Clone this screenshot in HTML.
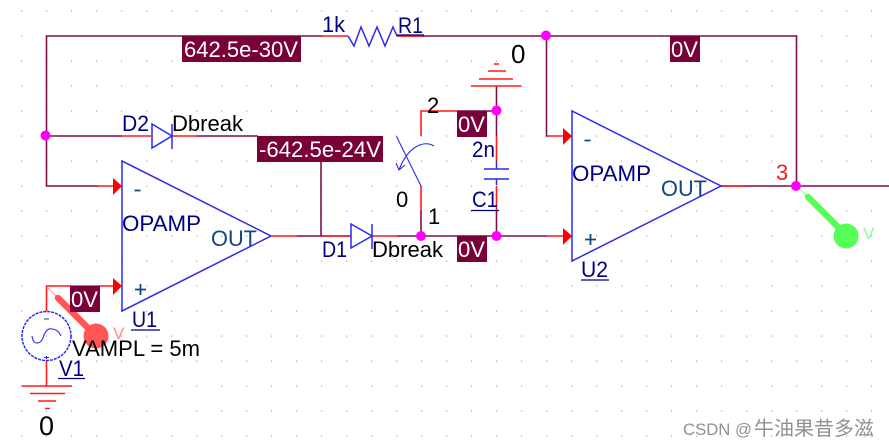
<!DOCTYPE html>
<html><head><meta charset="utf-8"><style>
html,body{margin:0;padding:0;background:#fff;width:889px;height:448px;overflow:hidden}
svg{display:block;filter:blur(.35px)}
text{font-family:"Liberation Sans","Noto Sans CJK SC",sans-serif;font-size:22px}
.w{stroke:#7f1048;stroke-width:1.6;fill:none}
.r{stroke:#ff1a1a;stroke-width:1.6;fill:none}
.b{stroke:#2a2aee;stroke-width:1.5;fill:none}
.s{stroke:#2a2aee;stroke-width:1.1;fill:none}
.box{fill:#7a0038}
.j{fill:#ff00ff}
.a{fill:#ff0000}
.n{fill:#000080}
.k{fill:#000}
.t{fill:#fff}
.o{fill:#14467f}
</style></head><body>
<svg width="889" height="448" viewBox="0 0 889 448" xmlns="http://www.w3.org/2000/svg">
<defs><pattern id="g" x="21" y="10.500" width="25" height="25" patternUnits="userSpaceOnUse"><rect width="1.200" height="1.200" fill="#a8a8a8"/></pattern></defs>
<rect width="889" height="448" fill="url(#g)"/>

<!-- maroon wires -->
<path class="w" d="M322 36H46.500V186H98M46.500 136H122M196 136H258M297 236H351M321 236V161M397 236H547M397 36H796.500V186M721 186H889M546.500 36V136H548M421 211V236M496.500 86V136M496.500 210V236M457 111H496"/>
<!-- red wires -->
<path class="r" d="M97 186H114M122 136H151M172 136H196M272 236H297M322 236H351M372 236H397M322 36H348M397 36H422M421 136V111H457M496.500 136V161M496.500 186V210M421 186V211M547 236H564M547 136H564M721 186H746M46.500 311V286H114M46.500 360V386"/>

<!-- arrowheads -->
<polygon class="a" points="113,178 122,186 113,195"/>
<polygon class="a" points="113,278 122,286 113,295"/>
<polygon class="a" points="563,128 572,136 563,145"/>
<polygon class="a" points="563,228 572,236 563,245"/>

<!-- ground symbols -->
<path class="r" d="M22 386H72M30 393.500H65M38 401H56M45 408.500H50"/>
<path class="r" d="M471 86H521M479 79H513M488 71H506M494 64H499"/>

<!-- opamps -->
<polygon class="b" points="122,161 122,311 271,236"/>
<polygon class="b" points="572,111 572,261 721,186"/>
<path stroke="#14467f" stroke-width="1.800" fill="none" d="M134.500 190.500H140.500M135 289.500H146M140.500 284V295M584.500 140.500H590.500M585 239.500H596M590.500 234V245"/>

<!-- diodes -->
<polygon class="b" points="152,124 172,136 152,148"/>
<path class="b" d="M172 124V149"/>
<polygon class="b" points="351,224 372,236 351,248"/>
<path class="b" d="M372 224V249"/>

<!-- resistor -->
<path class="b" d="M348 36L354 46L361 27L369 46L377 27L385 46L393 27L397 36"/>

<!-- capacitor -->
<path class="b" d="M484 169H509M484 179H509M496.500 161V169M496.500 179V185"/>

<!-- switch -->
<path class="s" d="M396.500 136.500L421 186M434 146C424 140 408 146 399 170M396 163L399 170L405 165"/>

<!-- source -->
<circle class="b" cx="46.500" cy="336" r="24.500" stroke-dasharray="3 1"/>
<path class="s" d="M32 336C33 345 40 345 43 338C45 331 48 328 52 329C56 329 59 332 61 336M44 319H49M46.500 356V359M44 357.500H49"/>

<!-- probes -->
<path stroke="#ff9a9a" stroke-width="1" d="M47 287L58 298"/>
<path stroke="#ff5555" stroke-width="6.500" stroke-linecap="round" d="M58 298L92 332"/>
<circle cx="96" cy="336" r="12.500" fill="#ff5555"/>
<path stroke="#90ff90" stroke-width="1" d="M797 187L808 197"/>
<path stroke="#55ff55" stroke-width="6.500" stroke-linecap="round" d="M808 197L842 231"/>
<circle cx="846" cy="236" r="12.500" fill="#55ff55"/>

<!-- junctions -->
<circle class="j" cx="45.500" cy="135.500" r="5"/>
<circle class="j" cx="546" cy="35.500" r="5"/>
<circle class="j" cx="496.500" cy="110.500" r="5"/>
<circle class="j" cx="421" cy="236" r="5"/>
<circle class="j" cx="496.500" cy="236" r="5"/>
<circle class="j" cx="796" cy="186" r="5"/>

<!-- voltage boxes -->
<rect class="box" x="182" y="36" width="119" height="26"/>
<rect class="box" x="257" y="136" width="126" height="26"/>
<rect class="box" x="457" y="111" width="30" height="26"/>
<rect class="box" x="457" y="236" width="30" height="26"/>
<rect class="box" x="670" y="36" width="30" height="26"/>
<rect class="box" x="70" y="286" width="30" height="26"/>
<text class="t" x="184" y="57" textLength="114" lengthAdjust="spacingAndGlyphs">642.5e-30V</text>
<text class="t" x="259" y="157" textLength="122" lengthAdjust="spacingAndGlyphs">-642.5e-24V</text>
<text class="t" x="458" y="132" textLength="27" lengthAdjust="spacingAndGlyphs">0V</text>
<text class="t" x="458" y="257" textLength="27" lengthAdjust="spacingAndGlyphs">0V</text>
<text class="t" x="671" y="57" textLength="27" lengthAdjust="spacingAndGlyphs">0V</text>
<text class="t" x="71" y="307" textLength="27" lengthAdjust="spacingAndGlyphs">0V</text>

<!-- labels -->
<text class="n" x="122" y="131" textLength="27" lengthAdjust="spacingAndGlyphs">D2</text>
<text class="k" x="172" y="131" textLength="71" lengthAdjust="spacingAndGlyphs">Dbreak</text>
<text class="n" x="122" y="231" textLength="79" lengthAdjust="spacingAndGlyphs">OPAMP</text>
<text class="o" x="211" y="246" textLength="46" lengthAdjust="spacingAndGlyphs">OUT</text>
<text class="n" x="132" y="327" textLength="25" lengthAdjust="spacingAndGlyphs">U1</text>
<path stroke="#000080" stroke-width="1.300" d="M131 330H160"/>
<text class="k" x="72" y="356" textLength="128" lengthAdjust="spacingAndGlyphs">VAMPL = 5m</text>
<text class="n" x="59" y="376" textLength="25" lengthAdjust="spacingAndGlyphs">V1</text>
<path stroke="#000080" stroke-width="1.300" d="M58 378.500H85"/>
<text class="k" x="39" y="435" style="font-size:27px">0</text>
<text fill="#ff9090" x="113" y="339" style="font-size:17px">V</text>
<text fill="#90ff90" x="863" y="239" style="font-size:17px">V</text>

<text class="n" x="322" y="32" textLength="23" lengthAdjust="spacingAndGlyphs">1k</text>
<text class="n" x="398" y="33" textLength="25" lengthAdjust="spacingAndGlyphs">R1</text>
<path stroke="#000080" stroke-width="1.200" d="M397 35H424"/>
<text class="k" x="511" y="63" style="font-size:26px">0</text>
<text class="k" x="427" y="113">2</text>
<text class="n" x="472" y="157" textLength="23" lengthAdjust="spacingAndGlyphs">2n</text>
<text class="n" x="472" y="207" textLength="26" lengthAdjust="spacingAndGlyphs">C1</text>
<path stroke="#000080" stroke-width="1.300" d="M471 210.500H499"/>
<text class="k" x="396" y="207">0</text>
<text class="k" x="428" y="224">1</text>
<text class="n" x="322" y="257" textLength="25" lengthAdjust="spacingAndGlyphs">D1</text>
<text class="k" x="372" y="257" textLength="71" lengthAdjust="spacingAndGlyphs">Dbreak</text>
<text class="n" x="572" y="181" textLength="79" lengthAdjust="spacingAndGlyphs">OPAMP</text>
<text class="o" x="661" y="196" textLength="46" lengthAdjust="spacingAndGlyphs">OUT</text>
<text class="n" x="581" y="277" textLength="27" lengthAdjust="spacingAndGlyphs">U2</text>
<path stroke="#000080" stroke-width="1.300" d="M581 280H609"/>
<text fill="#ff1a1a" x="776" y="180">3</text>

<!-- watermark -->
<text fill="#909090" x="683" y="435" textLength="69" lengthAdjust="spacingAndGlyphs" style="font-size:17px">CSDN @</text>
<text fill="#909090" x="754" y="435" textLength="120" lengthAdjust="spacingAndGlyphs" style="font-size:19.500px">牛油果昔多滋</text>
</svg>
</body></html>
